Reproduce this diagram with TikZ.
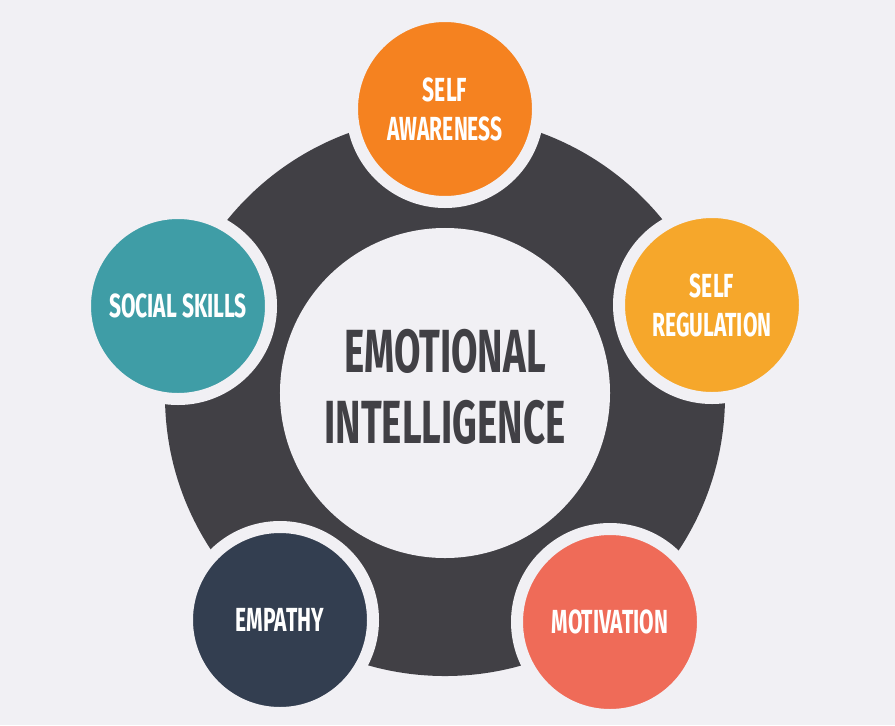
\documentclass[tikz,border=0pt]{standalone}
\usepackage{fontspec}
\usepackage{tikz}
\newfontfamily\labelfont{Fira Sans}[FakeStretch=0.63]
\definecolor{bgcol}{HTML}{F1F0F4}
\definecolor{ringcol}{HTML}{414045}
\definecolor{awarecol}{HTML}{F58220}
\definecolor{regcol}{HTML}{F6A72B}
\definecolor{motivcol}{HTML}{EF6B58}
\definecolor{empcol}{HTML}{333E50}
\definecolor{socialcol}{HTML}{3F9DA6}

\begin{document}
\begin{tikzpicture}[x=0.03cm,y=-0.03cm,
    skill/.style={circle,draw=bgcol,line width=0.36cm,minimum size=5.58cm,inner sep=0pt,
      align=center,text=white,font=\labelfont\bfseries\fontsize{28.5}{33.2}\selectfont},
    core/.style={circle,fill=bgcol,minimum size=9.9cm,inner sep=0pt},
    coretext/.style={align=center,text=ringcol,font=\labelfont\bfseries\fontsize{52}{61}\selectfont}]

\useasboundingbox[fill=bgcol] (0,0) rectangle (895,725);

% Ring
\fill[ringcol] (445,396) circle[radius=8.4cm];
\node[core] (ei) at (445,393) {};
\node[coretext] (eitext) at (445,387) {EMOTIONAL\\INTELLIGENCE};

% Skills
\node[skill,fill=awarecol] (aware) at (445,109) {SELF\\AWARENESS};
\node[skill,fill=regcol] (reg) at (712,305) {SELF\\REGULATION};
\node[skill,fill=motivcol] (motiv) at (610,622) {MOTIVATION};
\node[skill,fill=empcol] (emp) at (280,620) {EMPATHY};
\node[skill,fill=socialcol] (social) at (178,306) {SOCIAL SKILLS};
\end{tikzpicture}
\end{document}
